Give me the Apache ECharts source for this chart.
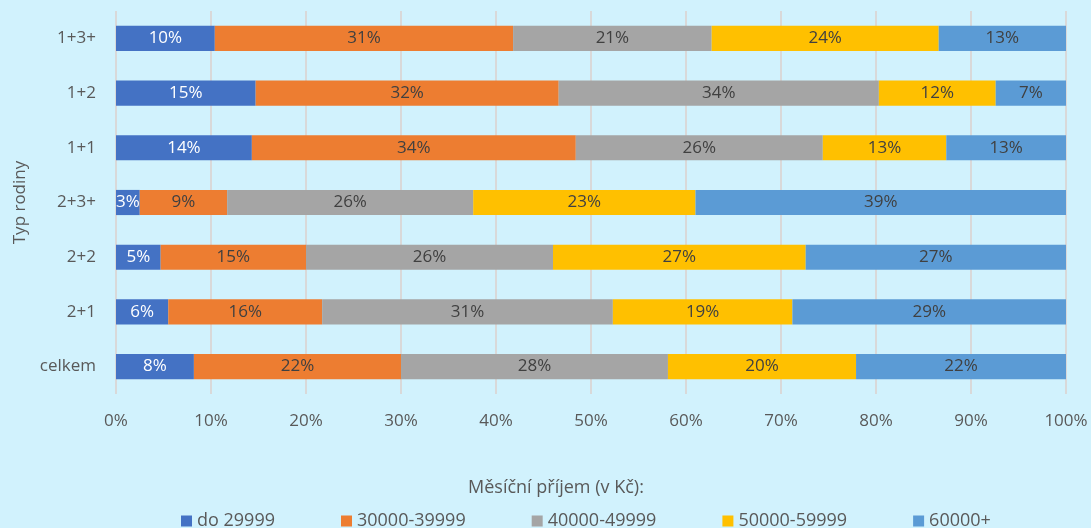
<!DOCTYPE html>
<html>
<head>
<meta charset="utf-8">
<script src="https://cdn.jsdelivr.net/npm/echarts@6/dist/echarts.min.js"></script>
<style>
  html, body { margin: 0; padding: 0; background: #d1f2fd; }
  #main { width: 1091px; height: 528px; }
</style>
</head>
<body>
<div id="main"></div>
<script>
// typ rodiny, zdola nahoru
var categories = ["celkem", "2+1", "2+2", "2+3+", "1+1", "1+2", "1+3+"];
var seriesNames = ["do 29999", "30000-39999", "40000-49999", "50000-59999", "60000+"];
var do29999 = [8.2, 5.5, 4.7, 2.5, 14.3, 14.7, 10.4];
var p30000 = [21.8, 16.2, 15.3, 9.2, 34.1, 31.9, 31.4];
var p40000 = [28.1, 30.6, 26.0, 25.9, 26.0, 33.7, 20.9];
var p50000 = [19.8, 18.9, 26.6, 23.4, 13.0, 12.3, 23.9];
var p60000 = [22.1, 28.8, 27.4, 39.0, 12.6, 7.4, 13.4];
var xTicks = [0, 10, 20, 30, 40, 50, 60, 70, 80, 90, 100];

var colors = ["#4472c4", "#ed7d31", "#a5a5a5", "#ffc000", "#5b9bd5"];
var labelColors = ["#ffffff", "#404040", "#404040", "#404040", "#404040"];
var values = [do29999, p30000, p40000, p50000, p60000];
var font = "'Open Sans', 'Noto Sans', sans-serif";

var series = [];
for (var i = 0; i < values.length; i++) {
  series.push({
    name: seriesNames[i],
    type: "bar",
    stack: "total",
    barWidth: "46%",
    data: values[i],
    itemStyle: { color: colors[i] },
    label: {
      show: true,
      position: "inside",
      color: labelColors[i],
      fontFamily: font,
      fontSize: 17,
      formatter: function (p) {
        return Math.round(p.value) + "%";
      }
    }
  });
}

var chart = echarts.init(document.getElementById("main"));
chart.setOption({
  backgroundColor: "#d1f2fd",
  animation: false,
  textStyle: { fontFamily: font },
  title: {
    text: "Měsíční příjem (v Kč):",
    left: 463,
    top: 474,
    textStyle: { fontSize: 18, fontWeight: "normal", color: "#595959", fontFamily: font }
  },
  legend: {
    data: seriesNames,
    top: 507,
    left: 176,
    icon: "rect",
    itemWidth: 11,
    itemHeight: 11,
    itemGap: 66,
    textStyle: { fontSize: 18, color: "#595959", fontFamily: font }
  },
  grid: { left: 116, right: 25, top: 11, bottom: 134 },
  xAxis: {
    type: "value",
    min: xTicks[0],
    max: xTicks[xTicks.length - 1],
    interval: 10,
    axisLine: { show: false },
    axisTick: { show: false },
    axisLabel: { color: "#595959", fontSize: 17, margin: 19, formatter: "{value}%" },
    splitLine: { lineStyle: { color: "#d9d9d9", width: 2 } }
  },
  yAxis: {
    type: "category",
    data: categories,
    name: "Typ rodiny",
    nameLocation: "middle",
    nameRotate: 90,
    nameGap: 87,
    nameTextStyle: { color: "#595959", fontSize: 17 },
    axisLine: { show: false },
    axisTick: { show: false },
    axisLabel: { color: "#595959", fontSize: 17, margin: 20 }
  },
  series: series
});
</script>
</body>
</html>
